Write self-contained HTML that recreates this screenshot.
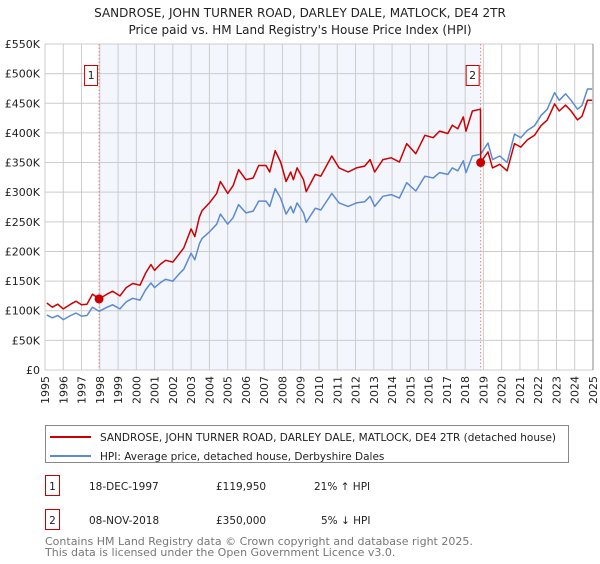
<!DOCTYPE html>
<html><head><meta charset="utf-8"><style>
body{margin:0;background:#fff;font-family:"DejaVu Sans","Liberation Sans",sans-serif;}
svg text{font-family:"DejaVu Sans","Liberation Sans",sans-serif;}
</style></head><body>
<svg id="chart" width="600" height="560" viewBox="0 0 600 560" xmlns="http://www.w3.org/2000/svg">
<text x="300" y="17" text-anchor="middle" font-size="12" fill="#222">SANDROSE, JOHN TURNER ROAD, DARLEY DALE, MATLOCK, DE4 2TR</text>
<text x="300" y="34" text-anchor="middle" font-size="12" fill="#222">Price paid vs. HM Land Registry's House Price Index (HPI)</text>
<g id="plot"></g>
<g>
<rect x="45.5" y="425.5" width="523" height="37" fill="#fff" stroke="#888"/>
<line x1="50" y1="437" x2="91" y2="437" stroke="#cc0000" stroke-width="2"/>
<text x="100" y="441" font-size="10.5" fill="#222">SANDROSE, JOHN TURNER ROAD, DARLEY DALE, MATLOCK, DE4 2TR (detached house)</text>
<line x1="50" y1="456" x2="91" y2="456" stroke="#5b8bd0" stroke-width="2"/>
<text x="100" y="460" font-size="10.5" fill="#222">HPI: Average price, detached house, Derbyshire Dales</text>
</g>
<g font-size="10.5" fill="#222">
<rect x="45.5" y="475.5" width="14" height="20" fill="#fff" stroke="#cc0000"/>
<text x="52.5" y="490" text-anchor="middle">1</text>
<text x="89" y="490">18-DEC-1997</text>
<text x="216" y="490">£119,950</text>
<text x="314" y="490">21% ↑ HPI</text>
<rect x="45.5" y="509.5" width="14" height="20" fill="#fff" stroke="#cc0000"/>
<text x="52.5" y="524" text-anchor="middle">2</text>
<text x="89" y="524">08-NOV-2018</text>
<text x="216" y="524">£350,000</text>
<text x="321" y="524">5% ↓ HPI</text>
</g>
<text x="45" y="545" font-size="11" fill="#777">Contains HM Land Registry data © Crown copyright and database right 2025.</text>
<text x="45" y="556" font-size="11" fill="#777">This data is licensed under the Open Government Licence v3.0.</text>
</svg>
<script>
const yTicks=[0,50,100,150,200,250,300,350,400,450,500,550];
const yTickLabels=["£0","£50K","£100K","£150K","£200K","£250K","£300K","£350K","£400K","£450K","£500K","£550K"];
const xTicks=[1995,1996,1997,1998,1999,2000,2001,2002,2003,2004,2005,2006,2007,2008,2009,2010,2011,2012,2013,2014,2015,2016,2017,2018,2019,2020,2021,2022,2023,2024,2025];
const hpiYears=[1995.1,1995.4,1995.7,1996.0,1996.4,1996.7,1997.0,1997.3,1997.6,1997.96,1998.4,1998.7,1999.1,1999.45,1999.8,2000.2,2000.5,2000.8,2001.0,2001.3,2001.6,2002.0,2002.4,2002.6,2003.0,2003.2,2003.45,2003.6,2004.0,2004.4,2004.6,2005.0,2005.3,2005.6,2006.0,2006.4,2006.7,2007.1,2007.3,2007.6,2007.9,2008.2,2008.45,2008.6,2008.8,2009.15,2009.3,2009.8,2010.1,2010.7,2011.1,2011.6,2012.05,2012.5,2012.8,2013.05,2013.5,2013.95,2014.4,2014.8,2015.3,2015.8,2016.25,2016.6,2017.05,2017.3,2017.6,2017.9,2018.05,2018.4,2018.85,2019.25,2019.5,2019.9,2020.3,2020.7,2021.05,2021.4,2021.8,2022.15,2022.5,2022.9,2023.15,2023.5,2023.8,2024.15,2024.4,2024.7,2024.95];
const hpiValues=[93,88,92,85,92,96,91,92,106,99,106,110,103,115,121,118,135,147,139,147,153,150,164,170,197,186,213,222,233,246,263,246,257,279,265,268,285,285,276,306,290,263,276,265,282,265,249,273,270,298,282,276,282,284,293,276,293,296,290,316,302,327,324,333,330,341,336,353,333,361,364,383,355,361,350,398,392,404,412,429,440,468,455,466,455,440,446,474,474];
const priceYears=[1995.1,1995.4,1995.7,1996.0,1996.4,1996.7,1997.0,1997.3,1997.6,1997.96,1998.4,1998.7,1999.1,1999.45,1999.8,2000.2,2000.5,2000.8,2001.0,2001.3,2001.6,2002.0,2002.4,2002.6,2003.0,2003.2,2003.45,2003.6,2004.0,2004.4,2004.6,2005.0,2005.3,2005.6,2006.0,2006.4,2006.7,2007.1,2007.3,2007.6,2007.9,2008.2,2008.45,2008.6,2008.8,2009.15,2009.3,2009.8,2010.1,2010.7,2011.1,2011.6,2012.05,2012.5,2012.8,2013.05,2013.5,2013.95,2014.4,2014.8,2015.3,2015.8,2016.25,2016.6,2017.05,2017.3,2017.6,2017.9,2018.05,2018.4,2018.84,2018.85,2019.25,2019.5,2019.9,2020.3,2020.7,2021.05,2021.4,2021.8,2022.15,2022.5,2022.9,2023.15,2023.5,2023.8,2024.15,2024.4,2024.7,2024.95];
const priceValues=[113,106,111,103,111,116,110,111,128,120,128,133,125,139,146,143,163,178,168,178,185,182,198,206,238,225,258,269,282,298,318,298,311,338,321,324,345,345,334,370,351,318,334,321,341,321,301,330,327,361,341,334,341,344,355,334,355,358,351,382,365,396,392,403,399,413,407,427,403,437,440,350,368,341,347,336,382,376,388,396,412,422,449,437,447,437,422,428,455,455];
const saleYears=[1997.96,2018.85];
const saleValues=[119.95,350];
const saleLabels=["1","2"];

const NS="http://www.w3.org/2000/svg";
const L=45,R=593,T=44,B=370;
const xs=y=>L+(y-1995)/30*(R-L);
const ys=v=>B-v/550*(B-T);
const g=document.getElementById('plot');
function mk(tag,attrs,parent){const e=document.createElementNS(NS,tag);for(const k in attrs)e.setAttribute(k,attrs[k]);(parent||g).appendChild(e);return e;}
let e=mk('rect',{x:L,y:T,width:R-L,height:B-T,fill:'#fff'});


e=mk('rect',{x:xs(saleYears[0]),y:T,width:xs(saleYears[1])-xs(saleYears[0]),height:B-T,fill:'#f3f6fd'});


xTicks.forEach(t=>{
  const l=mk('line',{x1:xs(t),x2:xs(t),y1:T,y2:B,stroke:'#cccccc','stroke-width':1});
  
  
  const tx=mk('text',{x:0,y:0,'font-size':11,fill:'#222','text-anchor':'end',transform:`translate(${xs(t)+4},${B+6}) rotate(-90)`});
  tx.textContent=t;
  
  
});
yTicks.forEach((t,i)=>{
  const l=mk('line',{x1:L,x2:R,y1:ys(t),y2:ys(t),stroke:'#cccccc','stroke-width':1});
  
  
  const tx=mk('text',{x:L-5,y:ys(t)+4,'font-size':11,fill:'#222','text-anchor':'end'});
  tx.textContent=yTickLabels[i];
  
  
});
saleYears.forEach((y,i)=>{
  const l=mk('line',{x1:xs(y),x2:xs(y),y1:T,y2:B,stroke:'#ec8080','stroke-width':1,'stroke-dasharray':'1.5,2'});
  
  
});
function path(xa,va,color,name){
  const d=xa.map((x,i)=>(i?'L':'M')+xs(x).toFixed(1)+','+ys(va[i]).toFixed(1)).join('');
  const p=mk('path',{d:d,fill:'none',stroke:color,'stroke-width':1.5,'stroke-linejoin':'round'});
  
  
}
path(hpiYears,hpiValues,'#5b8bd0','hpi-line');
path(priceYears,priceValues,'#cc0000','price-line');
saleYears.forEach((y,i)=>{
  const c=mk('circle',{cx:xs(y),cy:ys(saleValues[i]),r:4.5,fill:'#cc0000'});
  
  
  const bx=xs(y)-14;
  const r=mk('rect',{x:bx-0.5,y:T+21.5,width:13,height:20,fill:'#fff',stroke:'#cc0000'});
  
  
  const t=mk('text',{x:bx+6,y:T+35,'font-size':11,fill:'#222','text-anchor':'middle'});
  t.textContent=saleLabels[i];
  
  
});
e=mk('line',{x1:R,x2:R,y1:T,y2:B,stroke:'#888','stroke-width':1});


</script>
</body></html>
